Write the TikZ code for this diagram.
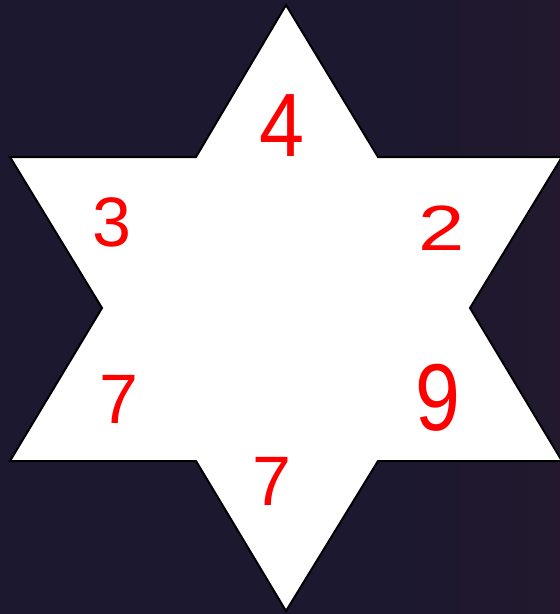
\documentclass[tikz,border=0pt]{standalone}
\usepackage{fontspec}
\setmainfont{Liberation Sans}
\definecolor{bgnavy}{RGB}{28,24,48}
\definecolor{bgpurple}{RGB}{36,26,46}
\definecolor{digitred}{RGB}{255,0,0}
\tikzset{
  digit/.style={text=digitred, inner sep=0pt, anchor=center},
  starshape/.style={fill=white, draw=black, line width=2pt, line join=miter}
}
\begin{document}
\begin{tikzpicture}[x=1pt,y=-1pt]
\useasboundingbox (0,0) rectangle (560,614);
\fill[bgnavy] (0,0) rectangle (560,614);
\shade[left color=bgnavy, right color=bgpurple, opacity=0.8] (380,0) rectangle (560,614);
% star
\draw[starshape] (286,5) -- (378,157) -- (562,157) -- (470,308) -- (562,461)
  -- (378,461) -- (286,611) -- (196,461) -- (10,461) -- (102,308)
  -- (10,157) -- (196,157) -- cycle;
% digits
\node[digit, font=\fontsize{90}{90}\selectfont, xscale=0.9] (d4) at (282,126) {4};
\node[digit, font=\fontsize{70}{70}\selectfont] (d3) at (112,222) {3};
\node[digit, font=\fontsize{64}{64}\selectfont, xscale=1.3] (d2) at (442,228) {2};
\node[digit, font=\fontsize{70}{70}\selectfont] (d7a) at (119,399) {7};
\node[digit, font=\fontsize{95}{95}\selectfont, xscale=0.85] (d9) at (438,398) {9};
\node[digit, font=\fontsize{70}{70}\selectfont] (d7b) at (272,481) {7};
\end{tikzpicture}
\end{document}
